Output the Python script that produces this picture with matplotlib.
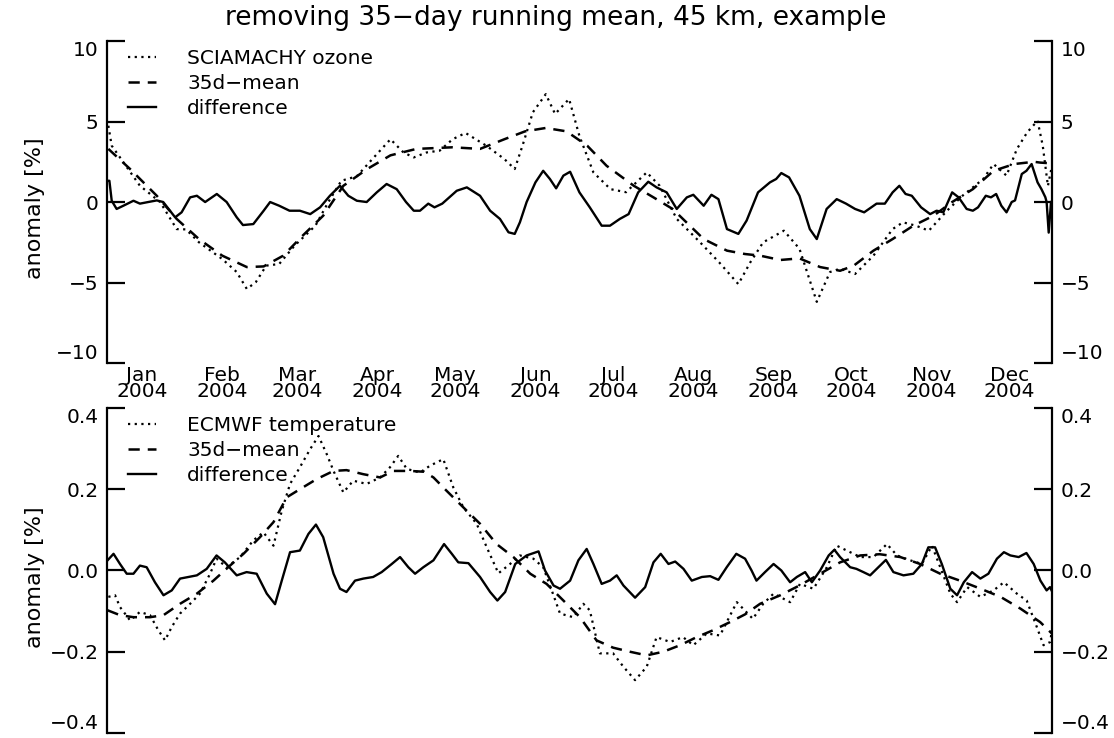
"""Removing a 35-day running mean: SCIAMACHY ozone and ECMWF temperature
anomalies at 45 km, 2004 example (two stacked panels, IDL look).
"""
import pandas as pd
import matplotlib
matplotlib.use("Agg")
import matplotlib.pyplot as plt
from matplotlib.dates import MonthLocator, DateFormatter
from matplotlib.ticker import FuncFormatter

# day offsets are counted from 2004-01-01 (negative = Dec 2003)
START = pd.Timestamp("2004-01-01")

# --- top panel: SCIAMACHY ozone anomaly [%] ---
oz_days = [-13, -11.7, -0.8, 7, 13.4, 17, 22, 31, 36.6, 40.5, 44, 48, 53, 59, 67,
           72, 77, 83, 89, 96, 101, 105, 110, 115, 120, 125, 133, 140, 144, 147,
           151, 156, 159.6, 165, 169, 174.4, 181, 187, 195, 200, 206.6, 215.6,
           223, 230.4, 235, 240, 248, 254, 260.7, 265.8, 269.7, 275.5, 282.6,
           290, 294, 299, 304, 311, 317, 325, 329, 334, 338, 342, 346, 348,
           350, 351.5]
oz_vals = [4.74, 3.5, 1.01, 0.0, -1.68, -1.7, -2.5, -3.54, -4.35, -5.4, -4.97,
           -3.95, -3.85, -2.7, -1.47, 0.0, 1.32, 1.6, 2.67, 3.9, 3.08, 2.77, 3.08,
           3.19, 3.9, 4.29, 3.5, 2.67, 2.05, 3.5, 5.57, 6.7, 5.47, 6.4, 4.1, 1.84,
           0.8, 0.61, 1.84, 1.01, -1.05, -2.5, -3.75, -5.1, -3.75, -2.5, -1.78,
           -2.9, -6.2, -4.35, -4.14, -4.47, -3.33, -1.68, -1.26, -1.47, -1.78,
           -0.54, 0.39, 1.43, 2.36, 1.64, 3.29, 4.33, 5.05, 3.5, 1.0, 2.2]

oz_mean_days = [-13, -4.6, 5.7, 13.4, 22, 31, 40.5, 47, 54.6, 62, 70, 77.8, 87,
                96, 106, 120, 130.6, 140, 148, 156, 164, 172, 179.5, 190, 197.6,
                205, 217, 226, 233, 238.8, 246.6, 254, 262, 269.7, 275, 282.6,
                290, 298, 305.8, 313, 321, 329, 337, 344.6, 347, 351.5]
oz_mean_vals = [3.3, 2.05, 0.39, -1.05, -2.3, -3.33, -4.04, -4.0, -3.33, -2.1,
                -0.85, 1.01, 2.05, 2.9, 3.3, 3.4, 3.3, 3.9, 4.39, 4.6, 4.39, 3.5,
                2.25, 1.01, 0.29, -0.43, -2.3, -3.02, -3.23, -3.33, -3.6, -3.5,
                -4.04, -4.27, -3.95, -3.02, -2.3, -1.47, -0.85, 0.0, 0.8, 1.94,
                2.36, 2.5, 2.45, 2.4]

oz_diff_days = [-13.4, -12.6, -11.7, -9.8, -7.2, -3.3, -0.8, 2.4, 5.7, 8.2, 12.8,
                15.3, 18.6, 21.2, 24.4, 28.9, 32.7, 36.6, 39, 43, 47, 49.5, 53,
                57, 61, 65, 68.8, 72.6, 76.5, 79.7, 83, 86.8, 90.7, 94.5, 98.4,
                102, 105, 107.4, 110.6, 113, 116, 121.6, 125.5, 130.6, 134.5,
                138.3, 141.6, 144, 146, 148.6, 152, 155, 157.6, 160, 162.8, 165.4,
                169, 173, 177.6, 180.8, 184.6, 188, 191.7, 195.6, 198.8, 202.7,
                206.6, 210.5, 213, 217, 220, 222.7, 226, 230.4, 233.6, 238, 242.6,
                245, 247, 250, 254, 258, 260.7, 264.5, 268.4, 272, 275.5, 279,
                283.8, 287, 290, 292.6, 295, 297.4, 301, 304.5, 307, 309.6, 313,
                315.5, 318.6, 321, 323, 326, 328, 330, 332, 334, 336, 337.3,
                339.9, 341.7, 343.7, 346, 347.5, 349, 349.5, 350.3, 351.2]
oz_diff_vals = [1.32, 1.32, 0.08, -0.43, -0.23, 0.08, -0.1, 0.0, 0.1, 0.0, -0.95,
                -0.64, 0.29, 0.39, 0.0, 0.5, 0.0, -0.95, -1.43, -1.37, -0.54, 0.0,
                -0.23, -0.54, -0.54, -0.75, -0.33, 0.39, 1.01, 0.39, 0.08, 0.0,
                0.6, 1.12, 0.8, 0.0, -0.54, -0.54, -0.1, -0.33, -0.1, 0.7, 0.91,
                0.39, -0.54, -1.05, -1.88, -1.98, -1.26, 0.0, 1.22, 1.94, 1.43,
                0.85, 1.64, 1.88, 0.6, -0.33, -1.47, -1.47, -1.05, -0.75, 0.6,
                1.26, 0.91, 0.6, -0.43, 0.29, 0.45, -0.23, 0.45, 0.18, -1.68,
                -1.98, -1.15, 0.6, 1.22, 1.43, 1.8, 1.53, 0.39, -1.68, -2.3, -0.43,
                0.18, -0.1, -0.43, -0.64, -0.1, -0.1, 0.6, 1.01, 0.5, 0.39, -0.33,
                -0.75, -0.54, -0.64, 0.6, 0.29, -0.43, -0.54, -0.33, 0.39, 0.29,
                0.5, -0.23, -0.64, 0.0, 0.1, 1.74, 1.94, 2.36, 1.22, 0.8, 0.3, 0.0,
                -1.9, 0.0]

# --- bottom panel: ECMWF temperature anomaly ---
tp_days = [-13, -10.4, -8.5, -4.6, -0.8, 3.1, 6.3, 8.9, 11.5, 14.7, 18.6, 22.4,
           26.3, 28.8, 32.7, 37.9, 43, 46.9, 50.8, 54, 57.2, 61, 65, 68.2, 71.4,
           74, 77.8, 81.6, 86.8, 92, 95.8, 99, 102.3, 107.4, 111.3, 116.4, 120.3,
           124.2, 129.3, 133.2, 137.7, 142.2, 146, 151.2, 155, 158.3, 161.5,
           166.6, 170.5, 173, 176.9, 182, 186, 190.5, 195, 198.8, 204, 209, 213,
           218.2, 223.3, 229.8, 236, 240, 244, 250.4, 254.2, 259.4, 264.6, 268.4,
           272.3, 277.5, 282.6, 287.8, 291.7, 296.8, 301.3, 305.2, 308.4, 312.3,
           314.9, 318.8, 323.9, 329, 333, 338, 341.8, 345.7, 348.3, 350.9, 351.5]
tp_vals = [-0.065, -0.061, -0.09, -0.123, -0.102, -0.11, -0.147, -0.172, -0.139,
           -0.106, -0.082, -0.057, -0.008, 0.029, 0.008, 0.033, 0.074, 0.094,
           0.061, 0.147, 0.213, 0.254, 0.299, 0.331, 0.286, 0.245, 0.192, 0.221,
           0.213, 0.229, 0.254, 0.282, 0.25, 0.241, 0.258, 0.274, 0.204, 0.155,
           0.115, 0.057, -0.007, 0.016, 0.037, 0.029, 0.008, -0.049, -0.106,
           -0.115, -0.082, -0.098, -0.204, -0.204, -0.237, -0.27, -0.237, -0.164,
           -0.176, -0.164, -0.184, -0.155, -0.16, -0.078, -0.119, -0.082, -0.057,
           -0.078, -0.033, -0.045, 0.008, 0.061, 0.049, 0.033, 0.033, 0.065,
           0.037, 0.025, 0.016, 0.061, 0.008, -0.057, -0.078, -0.041, -0.065,
           -0.049, -0.029, -0.057, -0.074, -0.139, -0.184, -0.176, -0.147]

tp_mean_days = [-13.3, -8.5, -3.3, 3.1, 8.3, 14.7, 21.2, 27.6, 34, 39.2, 45.6,
                50.8, 55.9, 61, 67.5, 74, 79, 85.5, 92, 97.1, 103.6, 109, 112.6,
                117.7, 124.2, 130.6, 137, 143.5, 150, 156.3, 162.8, 169.2, 175.6,
                182, 188.5, 195, 201.4, 207.9, 214.3, 220.7, 227.2, 233, 238.8,
                246.6, 254, 262, 269.7, 277.5, 285, 293, 300.6, 308.4, 316, 324,
                331.7, 339.4, 347, 351.5]
tp_mean_vals = [-0.098, -0.11, -0.115, -0.115, -0.11, -0.082, -0.057, -0.025,
                0.012, 0.041, 0.082, 0.119, 0.18, 0.2, 0.225, 0.245, 0.247, 0.237,
                0.229, 0.245, 0.245, 0.243, 0.229, 0.196, 0.155, 0.115, 0.065,
                0.033, -0.008, -0.033, -0.074, -0.115, -0.172, -0.19, -0.2,
                -0.209, -0.2, -0.184, -0.164, -0.147, -0.127, -0.108, -0.082,
                -0.061, -0.037, -0.008, 0.02, 0.037, 0.04, 0.033, 0.016, -0.008,
                -0.025, -0.045, -0.065, -0.094, -0.127, -0.155]

tp_diff_days = [-13.3, -11, -8.5, -5.9, -3.3, -0.8, 1.8, 5, 8.3, 11.5, 14.7, 21.2,
                25, 28.8, 32, 36.6, 40.4, 44.3, 48.2, 51.4, 54, 57.2, 61, 64.3,
                67.2, 70, 74, 76.5, 79, 82.3, 85.5, 89.3, 92.6, 96.5, 99.7, 102.9,
                105.5, 108.7, 112.6, 116.7, 119.7, 122.2, 126.1, 130.6, 134.5,
                137.3, 140.3, 144.2, 148.6, 153.2, 155.7, 159, 161.5, 165.4, 168.6,
                171.8, 174.4, 177.6, 180.8, 183.4, 186, 190.5, 194.4, 197.6, 200.4,
                203.4, 206, 209.2, 212.4, 216.3, 219.5, 222.7, 225.9, 229.6, 233,
                235.5, 237.4, 240.7, 244, 247, 250.4, 253, 256.2, 258.8, 262,
                265.3, 267.5, 269.7, 273.6, 276, 278.7, 281.3, 284.5, 287.4, 290.3,
                294.2, 298, 301.3, 303.8, 306.4, 309, 312.3, 314.9, 317.5, 320.7,
                323.9, 327, 330.3, 333, 335.5, 338.7, 341.7, 344.5, 347.1, 349.5,
                350.8, 351.7]
tp_diff_vals = [0.025, 0.041, 0.016, -0.008, -0.008, 0.012, 0.008, -0.029, -0.061,
                -0.049, -0.02, -0.012, 0.004, 0.037, 0.02, -0.012, -0.004, -0.008,
                -0.057, -0.083, -0.025, 0.045, 0.049, 0.09, 0.113, 0.082, -0.008,
                -0.045, -0.053, -0.025, -0.02, -0.016, -0.004, 0.016, 0.033, 0.008,
                -0.008, 0.008, 0.025, 0.065, 0.041, 0.02, 0.018, -0.016, -0.053,
                -0.074, -0.053, 0.016, 0.037, 0.047, 0.0, -0.037, -0.045, -0.025,
                0.025, 0.053, 0.016, -0.033, -0.025, -0.012, -0.037, -0.067,
                -0.041, 0.02, 0.041, 0.016, 0.022, 0.004, -0.025, -0.016, -0.014,
                -0.023, 0.008, 0.041, 0.029, 0.0, -0.025, -0.004, 0.016, 0.0,
                -0.029, -0.016, -0.004, -0.029, 0.0, 0.037, 0.051, 0.033, 0.008,
                0.004, -0.004, -0.012, 0.008, 0.026, -0.004, -0.012, -0.008, 0.016,
                0.057, 0.057, 0.016, -0.045, -0.061, -0.029, -0.004, -0.02, -0.008,
                0.029, 0.045, 0.037, 0.033, 0.043, 0.016, -0.025, -0.049, -0.041,
                -0.053]

XLIM_DAYS = (-13.5, 351.6)


def to_dates(days):
    return START + pd.to_timedelta(days, unit="D")


def minus_fmt(fmt):
    return FuncFormatter(lambda v, p: (fmt % v).replace("-", "\u2212"))


def style_panel(ax, ylim, yticks, fmt):
    ax.set_xlim(to_dates(list(XLIM_DAYS)))
    ax.set_ylim(ylim)
    ax.set_yticks(yticks)
    ax.yaxis.set_major_formatter(minus_fmt(fmt))
    for side in ("top", "bottom"):
        ax.spines[side].set_visible(False)
    for side in ("left", "right"):
        ax.spines[side].set_linewidth(1.6)
    ax.tick_params(axis="y", which="major", left=True, right=True,
                   labelleft=True, labelright=True, direction="in",
                   length=13, width=1.6, pad=6, labelsize=14.5)
    ax.set_ylabel("anomaly [%]", fontsize=16)
    ax.yaxis.set_label_coords(-0.066, 0.48)
    # IDL pulls the end labels inside the axis range
    ticks = ax.yaxis.get_major_ticks()
    for t in (ticks[0].label1, ticks[0].label2):
        t.set_va("bottom")
    for t in (ticks[-1].label1, ticks[-1].label2):
        t.set_va("top")


fig = plt.figure(figsize=(11.14, 7.38), dpi=100)

dot = dict(color="black", lw=1.6, linestyle=(0, (1, 2)))
dash = dict(color="black", lw=1.8, linestyle=(0, (4.5, 3.2)))
solid = dict(color="black", lw=1.7)
leg_kw = dict(loc="upper left", bbox_to_anchor=(0.022, 0.975), frameon=False,
              fontsize=14.5, handlelength=1.4, handletextpad=1.55,
              labelspacing=0.3, borderpad=0, borderaxespad=0)

# top panel
ax1 = fig.add_axes([0.0961, 0.5081, 0.8483, 0.4363])
ax1.plot(to_dates(oz_days), oz_vals, label="SCIAMACHY ozone", **dot)
ax1.plot(to_dates(oz_mean_days), oz_mean_vals, label="35d\u2212mean", **dash)
ax1.plot(to_dates(oz_diff_days), oz_diff_vals, label="difference", **solid)
style_panel(ax1, (-10, 10), [-10, -5, 0, 5, 10], "%d")
ax1.xaxis.set_major_locator(MonthLocator())
ax1.xaxis.set_major_formatter(DateFormatter("%b\n%Y"))
ax1.tick_params(axis="x", length=0, pad=2, labelsize=14.5)
for lab in ax1.get_xticklabels():
    lab.set_linespacing(0.8)
ax1.legend(**leg_kw)

# bottom panel
ax2 = fig.add_axes([0.0961, 0.0068, 0.8483, 0.4404])
ax2.plot(to_dates(tp_days), tp_vals, label="ECMWF temperature", **dot)
ax2.plot(to_dates(tp_mean_days), tp_mean_vals, label="35d\u2212mean", **dash)
ax2.plot(to_dates(tp_diff_days), tp_diff_vals, label="difference", **solid)
style_panel(ax2, (-0.4, 0.4), [-0.4, -0.2, 0.0, 0.2, 0.4], "%.1f")
ax2.set_xticks([])
ax2.legend(**leg_kw)

fig.text(0.499, 0.975, "removing 35\u2212day running mean, 45 km, example",
         ha="center", va="center", fontsize=19)

fig.savefig("out.png", dpi=100)
